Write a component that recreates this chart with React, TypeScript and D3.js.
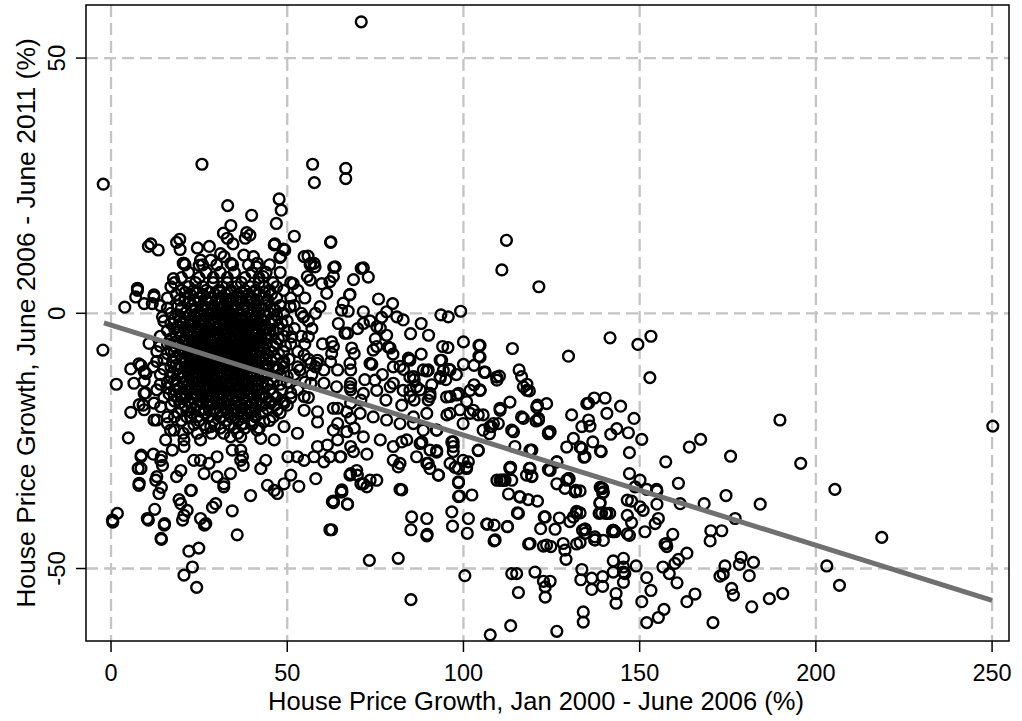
import React from "react";
import * as d3 from "d3";

// ---- Axis ticks ----
const xTicks = [0, 50, 100, 150, 200, 250];
const yTicks = [50, 0, -50];
const xTitle = "House Price Growth, Jan 2000 - June 2006 (%)";
const yTitle = "House Price Growth, June 2006 - June 2011 (%)";

// ---- Fitted line ----
const fitIntercept = -2.3;
const fitSlope = -0.2157;
const fitRange = [-2, 250];

// ---- Scatter data (x: growth 2000-06, y: growth 2006-11) ----
const topOutliers: [number, number][] = [
  [-2.2, 25.3], [71.0, 57.1], [25.8, 29.2], [57.2, 29.2], [57.7, 25.6], [66.6, 28.4], [66.6, 26.4],
  [33.1, 21.1], [34.0, 17.2], [39.9, 19.2], [47.7, 22.4], [48.3, 20.2], [46.9, 17.6], [52.0, 15.1],
  [62.3, 13.9], [112.2, 14.3], [110.9, 8.5], [121.4, 5.2], [99.2, 0.4], [93.6, -0.3], [95.7, -0.7],
];

const upperRing: [number, number][] = [
  [10.6, 13.1], [11.3, 13.6], [13.4, 12.4], [18.6, 13.9], [19.5, 14.5], [19.6, 12.5], [24.5, 12.8],
  [27.9, 13.1], [31.9, 15.7], [33.0, 14.7], [34.6, 13.6], [38.5, 15.8], [39.4, 15.3], [38.1, 14.7],
  [46.3, 13.4], [49.3, 12.4], [47.9, 10.9], [55.9, 11.2], [56.7, 9.8], [63.2, 9.0], [68.8, 6.6],
  [71.0, 8.8], [7.5, 4.9], [7.0, 3.2], [12.2, 3.2], [3.9, 1.2], [20.5, 9.8], [17.7, 6.8], [25.0, 9.4],
  [28.3, 10.4], [31.1, 11.7], [34.0, 9.8], [62.1, 6.2], [67.7, 3.6], [64.5, -2.0], [67.1, -3.9],
  [65.4, 0.6], [67.3, 0.4], [62.4, 14.0], [46.5, 13.6], [48.9, 12.6], [56.5, 9.5], [63.6, 9.1],
  [71.6, 8.9], [73.0, 7.1], [67.8, 3.7], [75.9, 2.8], [79.9, 1.9], [78.2, 0.3], [81.1, -0.7],
  [82.9, -1.3], [71.6, 0.3], [61.2, 3.9], [59.8, 5.8], [56.5, 6.5], [51.7, 5.8], [43.2, 7.2],
  [41.3, 9.1], [40.4, 11.1], [57.9, 9.1], [63.1, 7.2], [65.9, 2.0], [54.6, -0.7], [50.8, 1.3],
  [46.5, 0.6], [41.8, 1.3], [59.3, 1.3], [20.7, 9.8], [25.4, 10.4], [32.1, 11.1], [37.7, 11.4],
  [41.5, 9.8], [48.1, 11.1], [54.8, 11.1], [57.6, 9.8], [55.7, 7.2], [7.5, 4.5], [9.4, 1.9],
  [11.7, 1.9], [12.2, 3.6], [14.6, -0.7], [73.5, -1.5], [76.8, -0.8], [66.4, -3.9], [76.4, -2.9],
  [78.2, -4.3], [75.4, -6.5], [79.2, -6.8], [68.3, -6.8], [63.1, -6.5], [84.6, -9.0], [89.6, -11.3],
  [93.4, -9.2], [94.1, -6.5], [95.6, -6.7], [94.3, -11.2], [95.9, -11.0], [93.4, -12.4],
];

// core cluster, rows of [y, xs]
const coreRows: [number, number[]][] = [
  [9.5, [21, 26, 30, 34.5, 39, 45]],
  [8, [22, 27, 31, 35, 40, 44, 48]],
  [7, [20, 25, 29, 33, 38, 42]],
  [6, [18, 24, 29, 33, 37, 42, 46, 51]],
  [5.2, [17, 22, 26, 31.5, 35.5, 39.5, 43.5, 47]],
  [4.5, [20, 23.5, 27, 30.5, 34, 38, 41, 45, 49, 53]],
  [3.7, [18.5, 22.5, 26, 29.5, 32.5, 36, 39, 42, 45.5]],
  [3, [16, 21, 25, 28, 31, 34.5, 37, 40, 43.5, 47, 51, 55]],
  [2.2, [22, 25, 28.5, 31, 33.5, 36.5, 39.5]],
  [1.5, [14, 19, 23, 26, 29, 32, 35, 38, 41, 44, 48, 52]],
  [1.0, [16, 20, 24, 27.5, 30.5, 33, 36, 39, 42.5, 46]],
  [0.7, [23, 26, 29, 31.5, 34.5, 37.5, 40.5]],
  [0, [17, 21, 24.5, 27.5, 30, 33, 36, 39, 42, 45, 49, 54, 58]],
  [-0.3, [19, 22.5, 25.5, 28.5, 32, 34.5, 37, 40, 43.5, 47]],
  [-0.8, [21, 24, 27, 30, 33, 35.5, 38.5, 41.5]],
  [-1.5, [15, 19.5, 22.5, 25.5, 28.5, 31.5, 34, 37, 40, 43, 46.5, 50, 56]],
  [-2.0, [17, 20, 23.5, 26.5, 29.5, 32.5, 35.5, 38.5, 41.5, 45, 48.5]],
  [-2.3, [22.5, 25.5, 28, 31, 34, 37, 40]],
  [-3, [18, 21, 24, 27, 29.5, 32.5, 35.5, 38.5, 41.5, 44, 47.5, 52, 57]],
  [-3.4, [16, 19.5, 22.5, 25.5, 28.5, 31.5, 34.5, 37.5, 40, 43, 46, 50]],
  [-3.8, [21.5, 24.5, 27, 30, 33, 36, 38.5, 41]],
  [-4.5, [14, 20, 23, 25.5, 28, 31, 34, 37, 39.5, 42.5, 45.5, 49, 54]],
  [-5.0, [17, 21.5, 24.5, 27.5, 30.5, 33.5, 36.5, 39, 41.5, 44, 47.5]],
  [-5.3, [21, 24, 26.5, 29.5, 32, 35, 37.5, 40.5]],
  [-6, [16, 19, 22, 24.5, 27, 30, 32.5, 35.5, 38, 41, 44, 47, 51, 55, 60]],
  [-6.4, [14, 18, 21, 24, 26.5, 29.5, 32, 34.5, 37.5, 40.5, 43, 46, 49.5]],
  [-6.8, [23, 25.5, 28.5, 31, 33.5, 36.5, 39]],
  [-7.5, [13, 18, 21, 23.5, 26, 29, 31.5, 34, 36.5, 39.5, 42.5, 45.5, 49, 53]],
  [-7.9, [16, 19.5, 22.5, 25, 28, 30.5, 33, 35.5, 38, 41, 44, 47.5]],
  [-8.3, [22, 24.5, 27, 29.5, 32, 34.5, 37, 40]],
  [-9, [15, 20, 22.5, 25, 28, 30.5, 33, 35.5, 38, 41, 44, 47, 50.5, 56]],
  [-9.4, [13, 17.5, 21, 24, 26.5, 29, 32, 34.5, 37, 40, 42.5, 45.5, 49]],
  [-9.8, [23, 25.5, 28, 31, 33.5, 36, 39]],
  [-10.5, [12, 17, 21, 24, 26.5, 29, 32, 34.5, 37, 40, 43, 46, 49, 53, 58]],
  [-10.9, [15, 19, 22, 25, 27.5, 30, 33, 35.5, 38.5, 41.5, 44.5, 47.5]],
  [-11.3, [22.5, 25.5, 28.5, 31, 34, 37, 40]],
  [-12, [14, 19, 22, 25, 27.5, 30, 33, 36, 38.5, 41.5, 44.5, 48, 52, 57]],
  [-12.4, [17, 20.5, 23.5, 26.5, 29, 31.5, 34.5, 37, 40, 43, 46.5, 50]],
  [-12.8, [24, 27, 29.5, 32.5, 35, 38]],
  [-13.5, [16, 20.5, 23, 26, 28.5, 31, 34, 37, 40, 43, 46, 50, 55]],
  [-13.9, [14, 18.5, 22, 24.5, 27.5, 30, 32.5, 35.5, 38.5, 41.5, 44.5, 48]],
  [-14.3, [25, 28, 31, 33.5, 36.5]],
  [-15, [13, 18, 21.5, 24.5, 27, 30, 32.5, 35.5, 38, 41.5, 45, 48.5, 53]],
  [-15.8, [16.5, 20, 23, 26, 28.5, 31, 34, 36.5, 39.5, 43, 46]],
  [-16.5, [15, 20, 23, 26, 29, 31.5, 34.5, 37.5, 40.5, 44, 47, 51, 56]],
  [-17.2, [18, 22, 25, 27.5, 30, 33, 35.5, 38.5, 41.5, 45, 49]],
  [-18, [17, 21, 24.5, 28, 31, 34, 37, 40, 43, 46.5, 50]],
  [-18.8, [20, 23.5, 26.5, 29.5, 32.5, 35, 38, 41, 44.5]],
  [-19.5, [19, 23, 26.5, 30, 33, 36, 39.5, 43, 48]],
  [-20.3, [18, 21.5, 24.5, 27.5, 31, 34, 37.5, 41, 46]],
  [-21, [20, 25, 29, 32.5, 36, 40, 45]],
  [-21.8, [23.5, 26.5, 29.5, 33.5, 37, 40]],
  [-22.5, [22, 27, 31, 35, 38, 42]],
  [-23.5, [20.5, 24.5, 28.5, 32, 36]],
];

// extra points in the darkest part of the cluster
const coreDense: [number, number[]][] = [
  [4.1, [21, 24.5, 28, 31, 34, 37, 40.5, 43.5]],
  [2.6, [19.5, 23.5, 27, 30, 32.5, 35.5, 38.5, 41.5, 44.5]],
  [-1.1, [18, 23, 26, 29, 31.5, 34, 36.5, 39.5, 42.5, 45.5]],
  [-2.7, [19, 21.5, 24.5, 27.5, 30.5, 33.5, 36.5, 39, 42.5]],
  [-4.2, [18.5, 22, 26.5, 29, 32, 35, 38, 40.5, 44]],
  [-5.7, [18, 20.5, 23, 25.5, 28.5, 31, 34, 36.5, 39.5, 42.5]],
  [-7.2, [17, 20, 22.5, 25, 27.5, 30, 32.5, 35, 37.5, 40, 43.5]],
  [-8.7, [18.5, 21, 23.5, 26, 28.5, 31, 34, 36.5, 39, 42]],
  [-10.2, [18.5, 22.5, 25, 27.5, 30.5, 33.5, 36, 38.5, 41.5, 44]],
  [-11.7, [17.5, 20.5, 23.5, 26, 29, 32, 35, 37.5, 40, 43]],
  [-13.2, [18, 21.5, 25, 27.5, 30, 33, 35.5, 38.5, 41.5]],
  [-14.6, [16, 19.5, 23, 26, 29, 31.5, 34, 37, 40, 43]],
  [-16.1, [18, 21.5, 24.5, 27.5, 30, 33, 35.5, 38.5, 42]],
  [-17.6, [19.5, 23, 26, 29, 32, 35, 38, 41]],
  [-19.1, [21.5, 25, 28, 31, 34.5, 37, 40]],
];

const lowerLeft: [number, number][] = [
  [-2.3, -7.2], [1.5, -13.9], [5.6, -19.4], [4.9, -24.4], [5.6, -10.9], [0.4, -40.5], [1.8, -39.2],
  [7.9, -9.9], [9.4, -11.4], [9.4, -13.3], [9.8, -15.6], [9.1, -18.0], [12.2, -17.6], [13.0, -20.9],
  [15.5, -24.8], [20.7, -24.8], [20.7, -26.1], [8.6, -27.8], [12.0, -27.6], [14.3, -28.1], [14.6, -29.8],
  [7.7, -30.4], [7.9, -33.7], [13.0, -32.0], [14.3, -34.1], [18.6, -32.0], [22.8, -34.7], [19.3, -36.5],
  [19.8, -37.3], [21.6, -38.6], [20.7, -39.6], [25.4, -40.2], [26.9, -41.2], [28.8, -38.0], [29.7, -37.3],
  [34.4, -38.7], [35.8, -43.4], [39.6, -35.7], [12.4, -38.4], [10.3, -40.2], [15.2, -41.2], [14.3, -44.3],
  [22.1, -46.6], [24.9, -46.0], [23.1, -49.7], [20.7, -51.3], [24.3, -53.7], [14.2, -44.1], [0.5, -40.9],
  [10.6, -40.5], [15.1, -41.5], [20.3, -40.5], [26.5, -41.5], [8.5, -10.2], [9.9, -11.8], [6.5, -13.7],
  [9.4, -15.7], [14.1, -18.3], [12.2, -20.9], [16.0, -21.6], [17.9, -22.9], [9.4, -18.9], [8.0, -17.9],
  [17.4, -26.8], [14.1, -28.8], [19.8, -30.8], [12.7, -32.7], [13.6, -35.3], [22.6, -34.7], [27.8, -29.4],
  [8.5, -28.1], [8.5, -30.4], [8.0, -33.3], [10.8, -5.9], [23.5, -28.8], [25.4, -28.8], [26.4, -31.4],
  [30.1, -32.0], [32.0, -33.4], [32.0, -34.0], [33.9, -31.4], [36.8, -26.8], [36.8, -28.8], [34.4, -26.8],
  [30.1, -28.1], [16.9, -22.9], [25.4, -24.8], [33.9, -24.2], [36.8, -24.2], [28.3, -22.2], [22.6, -20.3],
  [16.0, -20.3],
];

const middleBand: [number, number][] = [
  [37.5, -29.8], [37.3, -28.1], [42.5, -30.4], [43.9, -28.8], [44.4, -33.7], [46.3, -34.7], [47.2, -35.3],
  [49.1, -33.4], [51.0, -31.7], [53.3, -33.9], [58.1, -32.4], [50.2, -28.1], [52.9, -28.1], [54.8, -28.8],
  [57.6, -28.1], [60.4, -29.1], [65.2, -28.1], [65.3, -35.0], [62.8, -36.9], [67.1, -37.4], [62.1, -42.4],
  [68.0, -31.4], [69.9, -31.7], [70.9, -33.4], [42.5, -24.5], [46.3, -24.8], [41.5, -22.9], [49.1, -22.2],
  [52.9, -23.5], [58.6, -26.1], [61.4, -25.8], [64.3, -24.8], [68.0, -26.1], [69.0, -22.5], [43.4, -21.2],
  [37.7, -21.6], [54.8, -19.0], [58.6, -19.3], [58.6, -21.3], [64.3, -21.6], [68.0, -20.6], [68.0, -17.6],
  [64.3, -18.6], [54.8, -16.3], [51.0, -15.6], [47.2, -18.9], [45.3, -17.6], [49.1, -17.6], [56.7, -13.7],
  [60.4, -13.7], [68.0, -11.1], [64.3, -11.1], [60.4, -11.1], [56.7, -9.8], [54.8, -8.2], [69.0, -7.9],
  [58.6, -9.2], [62.3, -9.5], [68.0, -13.7], [70.9, -17.0], [62.6, -5.6], [74.4, -7.2], [78.7, -6.6],
  [84.8, -9.2], [90.1, -4.3], [100.0, -5.6], [104.7, -6.3], [104.7, -8.6], [106.1, -11.5], [109.4, -12.5],
  [104.7, -15.1], [93.8, -9.2], [96.2, -11.1], [88.6, -11.1], [84.8, -12.5], [80.1, -10.5], [73.5, -9.8],
  [67.8, -9.8], [62.6, -7.9], [58.4, -9.8], [53.6, -11.1], [48.9, -9.8], [44.2, -10.5], [54.6, -0.7],
  [50.8, 1.3], [46.5, 0.6], [56.0, -4.6], [51.3, -4.6], [45.1, -3.3], [43.2, -6.6], [40.8, -0.7],
  [75.4, -2.6], [71.6, -2.0], [74.9, -13.1], [80.1, -13.7], [84.8, -15.1], [74, -10], [77, -12],
  [80, -8], [83, -11], [86, -13], [88, -8], [91, -14], [95, -13], [98, -12], [100, -10], [103, -14],
  [90, -17], [86, -17], [78, -17], [72, -13], [68, -15], [75, -5], [85, -4], [88, -2], [70, -3],
  [64.0, -14.4], [67.8, -14.4], [71.6, -15.7], [75.4, -15.1], [79.2, -14.4], [82.9, -15.1], [86.7, -14.4],
  [90.5, -15.7], [95.2, -16.4], [98.1, -16.0], [101.9, -15.1], [104.7, -15.1], [109.5, -13.1],
  [113.2, -17.4], [117.0, -14.4], [118.0, -15.1], [120.8, -18.4], [123.6, -17.7], [63.1, -18.6],
  [66.9, -19.3], [70.7, -19.6], [74.4, -20.3], [78.2, -20.9], [82.0, -21.6], [85.8, -20.3], [89.6, -19.6],
  [92.4, -22.9], [96.2, -19.6], [99.9, -21.6], [102.8, -19.0], [105.6, -22.9], [108.5, -21.6],
  [110.4, -19.0], [113.7, -22.9], [116.5, -20.3], [118.9, -26.8], [124.6, -23.2], [63.1, -22.9],
  [66.9, -23.2], [71.6, -24.2], [76.4, -24.8], [80.1, -26.1], [83.9, -24.8], [87.7, -25.5], [90.5, -26.8],
  [92.4, -26.9], [97.1, -25.2], [97.1, -27.1], [99.9, -28.8], [104.2, -26.9], [107.5, -22.2], [62.1, -28.1],
  [65.0, -28.1], [68.8, -27.1], [72.6, -27.6], [80.1, -28.8], [81.5, -30.1], [86.7, -28.1], [89.6, -29.4],
  [90.5, -30.4], [92.9, -31.7], [96.2, -29.4], [97.6, -30.2], [100.9, -30.4], [101.4, -29.1],
  [113.2, -30.2], [110.4, -32.7], [111.8, -32.7], [118.9, -30.4], [117.9, -31.7], [124.6, -30.8],
  [126.5, -29.1], [67.8, -31.7], [69.7, -30.8], [71.6, -33.4], [73.5, -32.7], [75.4, -32.7], [72.6, -34.0],
  [65.5, -35.0], [63.1, -37.1], [67.1, -37.4], [82.0, -34.5], [98.6, -33.2], [102.4, -35.6], [98.6, -35.9],
  [84.4, -8.8], [85.8, -12.4], [90.0, -11.1], [82.0, -10.4], [93.4, -12.7], [87.7, -15.0], [90.5, -16.3],
  [84.9, -16.3], [82.5, -18.0], [96.2, -16.3], [98.6, -15.7], [100.9, -17.3], [99.0, -18.9], [101.9, -19.6],
  [104.7, -15.0], [106.1, -11.6], [104.2, -19.9], [105.6, -19.9], [95.3, -19.9], [92.4, -22.9],
  [88.6, -22.9], [85.8, -21.6], [82.5, -25.2], [88.2, -25.2], [92.4, -27.2], [96.7, -25.2], [97.1, -26.1],
  [98.6, -30.4], [100.9, -30.1], [92.9, -31.7], [90.0, -29.4], [82.0, -29.4], [82.5, -34.6], [85.3, -39.9],
  [89.6, -40.2], [98.6, -33.0], [104.2, -26.8], [109.9, -21.6], [108.0, -22.2], [107.4, -23.6],
  [114.2, -23.2], [117.0, -20.6], [114.6, -26.1], [113.2, -30.4], [119.4, -26.8], [119.4, -32.0],
  [121.3, -20.6], [120.6, -21.1], [124.1, -23.6], [126.5, -33.4], [129.3, -32.7], [131.7, -35.0],
  [113.7, -32.7], [116.1, -36.0], [110.9, -32.7], [65.5, -34.6], [63.1, -36.8], [62.6, -42.4],
  [104.4, -6.3], [104.4, -8.4], [103.0, -10.2], [105.9, -11.5], [113.9, -6.9], [129.8, -8.4],
  [110.2, -12.3], [115.8, -11.1], [116.5, -12.4], [118.0, -13.9], [118.7, -15.2], [110.4, -18.6],
  [121.0, -18.0], [121.3, -20.9], [124.1, -23.4], [130.7, -19.9], [135.0, -17.7],
];

const lowerMiddle: [number, number][] = [
  [73.3, -48.4], [81.5, -48.0], [85.1, -42.4], [89.6, -43.6], [89.7, -43.3], [96.9, -41.7], [101.1, -43.1],
  [100.4, -51.4], [85.1, -56.1], [107.6, -63.0], [113.4, -61.2], [126.5, -62.3], [134.0, -60.5],
  [143.3, -56.8], [115.6, -54.7], [123.2, -55.6], [123.2, -53.6], [124.6, -52.5], [122.7, -52.5],
  [133.3, -52.2], [136.4, -54.1], [139.5, -53.5], [142.5, -50.7], [145.4, -50.7], [145.4, -52.7],
  [120.3, -50.7], [113.7, -51.0], [115.1, -51.0], [106.6, -41.3], [108.7, -41.5], [108.7, -44.6],
  [112.5, -41.8], [115.6, -39.2], [118.5, -45.2], [122.7, -45.6], [124.8, -45.7], [128.3, -45.1],
  [128.8, -46.4], [129.1, -48.2], [132.1, -45.2], [134.5, -42.3], [137.3, -44.4], [137.3, -43.8],
  [142.5, -42.5], [132.1, -39.1], [130.2, -40.8], [127.2, -40.1], [123.2, -39.9], [121.9, -42.2],
  [126.0, -42.3], [109.5, -32.7], [111.5, -32.7], [112.8, -35.4], [115.9, -35.9], [118.4, -36.5],
  [121.0, -36.8], [113.4, -30.2], [118.7, -30.4], [119.4, -31.9], [124.1, -30.6], [130.0, -32.4],
  [128.8, -34.3], [131.9, -34.7], [139.5, -34.3], [139.5, -35.2], [138.7, -37.2], [138.5, -39.2],
  [140.4, -39.2], [141.5, -39.2], [142.3, -42.8], [146.5, -39.6], [146.5, -43.2], [146.5, -36.6],
  [115.3, -39.1], [122.9, -39.9], [131.2, -39.9], [133.8, -42.5], [96.7, -38.9], [101.4, -40.2],
  [98.9, -35.8], [106.8, -41.3], [112.5, -41.8], [109.0, -44.4], [118.9, -45.1], [123.6, -45.4],
  [139.7, -44.5], [157.5, -45.1],
];

const rightTail: [number, number][] = [
  [141.6, -4.8], [149.5, -6.1], [153.2, -4.5], [152.9, -12.6], [137.1, -16.6], [140.2, -16.6],
  [135.5, -17.6], [144.6, -18.2], [148.4, -20.6], [140.7, -19.6], [135.5, -20.9], [135.9, -22.1],
  [133.6, -22.2], [143.5, -22.6], [141.8, -23.7], [146.8, -23.4], [150.6, -24.7], [136.7, -25.2],
  [138.9, -27.0], [133.6, -26.5], [134.5, -28.1], [147.1, -27.3], [147.1, -31.4], [150.1, -32.7],
  [148.7, -34.0], [154.9, -34.8], [139.2, -34.3], [139.7, -35.0], [138.8, -37.1], [147.7, -36.8],
  [150.1, -37.9], [151.0, -38.6], [154.9, -37.4], [155.3, -40.2], [154.4, -41.2], [147.7, -41.0],
  [139.2, -39.1], [140.7, -39.2], [133.1, -39.1], [133.1, -34.8], [134.5, -42.3], [134.5, -43.1],
  [137.3, -44.4], [133.1, -44.9], [142.5, -42.5], [143.0, -42.8], [147.1, -43.5], [151.5, -42.8],
  [157.2, -45.2], [157.7, -45.7], [159.4, -43.3], [163.4, -47.0], [161.0, -48.2], [160.0, -49.0],
  [158.4, -51.0], [156.6, -49.7], [160.6, -52.8], [142.5, -48.5], [145.4, -48.0], [145.4, -49.7],
  [145.8, -51.0], [149.0, -49.5], [152.0, -51.8], [153.2, -54.3], [150.6, -56.5], [143.3, -54.9],
  [139.5, -51.6], [136.4, -51.9], [133.6, -50.2], [134.0, -58.5], [152.0, -60.6], [155.3, -59.6],
  [156.9, -58.0], [163.4, -56.5], [165.7, -55.0], [170.8, -60.6], [176.1, -53.9], [176.6, -55.2],
  [181.8, -57.5], [186.8, -55.9], [190.6, -54.9], [181.1, -51.4], [178.8, -47.8], [182.3, -48.8],
  [178.3, -49.2], [174.2, -49.5], [172.8, -51.5], [173.7, -51.1], [170.2, -42.6], [170.0, -44.6],
  [173.3, -42.6], [177.1, -40.2], [174.5, -35.7], [168.3, -37.3], [161.5, -37.3], [161.0, -33.3],
  [157.4, -29.1], [164.1, -26.2], [167.3, -24.7], [175.8, -28.0], [184.2, -37.4], [189.8, -20.9],
  [195.7, -29.4], [205.4, -34.5], [218.7, -43.9], [203.1, -49.5], [206.7, -53.3], [250.2, -22.1],
  [129.3, -26.2], [131.2, -24.5], [133.1, -26.2], [139.1, -27.1], [134.2, -28.2], [138.8, -34.1],
  [152.0, -34.5], [154.8, -34.5], [129.8, -32.4], [132.1, -38.8], [126.5, -29.1],
];

const W = 1022;
const H = 721;
const plot = { left: 86, right: 1009, top: 5, bottom: 641 };
const FONT = "Arial, 'Liberation Sans', Helvetica, sans-serif";

export default function App() {
  const x = d3.scaleLinear().domain([-7.1, 254.8]).range([plot.left, plot.right]);
  const y = d3.scaleLinear().domain([60.4, -64.2]).range([plot.top, plot.bottom]);

  const rowsToPts = (rows: [number, number[]][]) =>
    rows.flatMap(([yy, xs]) => xs.map((xx) => [xx, yy] as [number, number]));
  const all: [number, number][] = [
    ...topOutliers,
    ...upperRing,
    ...rowsToPts(coreRows),
    ...rowsToPts(coreDense),
    ...lowerLeft,
    ...middleBand,
    ...lowerMiddle,
    ...rightTail,
  ];

  const line = d3
    .line<number>()
    .x((d) => x(d))
    .y((d) => y(fitIntercept + fitSlope * d));

  return (
    <svg
      width={W}
      height={H}
      style={{ position: "absolute", left: 0, top: 0, background: "#fff" }}
      fontFamily={FONT}
    >
      <rect x={0} y={0} width={W} height={H} fill="#fff" />
      {/* grid */}
      <g stroke="#c4c4c4" strokeWidth={2.3} strokeDasharray="12 6">
        {xTicks.map((t) => (
          <line key={"gx" + t} x1={x(t)} x2={x(t)} y1={plot.top} y2={plot.bottom} />
        ))}
        {yTicks.map((t) => (
          <line key={"gy" + t} x1={plot.left} x2={plot.right} y1={y(t)} y2={y(t)} />
        ))}
      </g>
      {/* points */}
      <g fill="none" stroke="#000" strokeWidth={2.4}>
        {all.map((d, i) => (
          <circle key={i} cx={x(d[0])} cy={y(d[1])} r={5.4} />
        ))}
      </g>
      {/* fit line */}
      <path d={line(fitRange) || ""} stroke="#707070" strokeWidth={5} fill="none" />
      {/* frame */}
      <rect
        x={plot.left}
        y={plot.top}
        width={plot.right - plot.left}
        height={plot.bottom - plot.top}
        fill="none"
        stroke="#000"
        strokeWidth={1.5}
      />
      {/* x axis */}
      {xTicks.map((t) => (
        <g key={"xt" + t}>
          <line x1={x(t)} x2={x(t)} y1={plot.bottom} y2={plot.bottom + 11} stroke="#000" strokeWidth={1.5} />
          <text x={x(t)} y={681} textAnchor="middle" fontSize={23.5} fill="#000">
            {t}
          </text>
        </g>
      ))}
      {/* y axis */}
      {yTicks.map((t) => (
        <g key={"yt" + t}>
          <line x1={plot.left - 10} x2={plot.left} y1={y(t)} y2={y(t)} stroke="#000" strokeWidth={1.5} />
          <text
            transform={`translate(65,${y(t)}) rotate(-90)`}
            textAnchor="middle"
            fontSize={24}
            fill="#000"
          >
            {t}
          </text>
        </g>
      ))}
      <text x={536} y={710} textAnchor="middle" fontSize={25.5} fill="#000">
        {xTitle}
      </text>
      <text
        transform={`translate(35,${(plot.top + plot.bottom) / 2}) rotate(-90)`}
        textAnchor="middle"
        fontSize={26.5}
        fill="#000"
      >
        {yTitle}
      </text>
    </svg>
  );
}
